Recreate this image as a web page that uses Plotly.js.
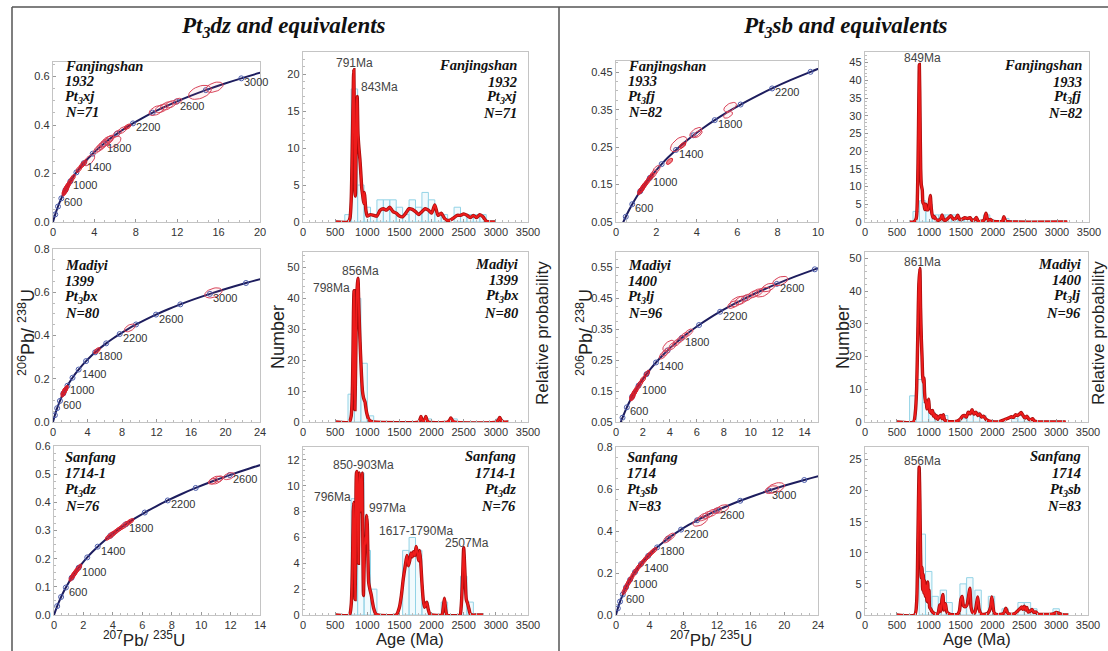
<!DOCTYPE html>
<html><head><meta charset="utf-8">
<script src="https://cdn.plot.ly/plotly-3.0.1.min.js"></script>
<style>html,body{margin:0;padding:0;background:#fff;}#chart{width:1108px;height:651px;}</style>
</head><body><div id="chart"></div>
<script>
// ---------- Concordia reference table (age in Ma, 207Pb/235U, 206Pb/238U) ----------
const concAge=[0,100,200,300,400,500,600,700,800,900,1000,1100,1200,1300,1400,1500,1600,1700,1800,1900,2000,2100,2200,2300,2400,2500,2600,2700,2800,2900,3000,3100,3200,3300,3400];
const concX=[0,0.1035,0.2177,0.3437,0.4828,0.6363,0.8056,0.9925,1.1987,1.4263,1.6774,1.9545,2.2603,2.5977,2.9701,3.3810,3.8344,4.3348,4.8869,5.4962,6.1685,6.9105,7.7292,8.6326,9.6296,10.7297,11.9437,13.2834,14.7616,16.3929,18.1931,20.1795,22.3716,24.7902,27.4597];
const concY=[0,0.01563,0.03151,0.04764,0.06402,0.08065,0.09754,0.11470,0.13213,0.14983,0.16780,0.18606,0.20460,0.22344,0.24256,0.26199,0.28172,0.30175,0.32211,0.34277,0.36377,0.38509,0.40674,0.42873,0.45107,0.47375,0.49679,0.52019,0.54396,0.56810,0.59261,0.61751,0.64280,0.66848,0.69456];
const concLabelAges=[600,1000,1400,1800,2200,2600,3000];

// ---------- Concordia analyses (ellipse centres, semi-major size) ----------
const ellA_x=[1.1,1.15,1.2,1.22,1.25,1.28,1.3,1.35,1.4,1.5,1.7,1.9,2.5,2.8,3.0,3.5,4.3,4.6,4.8,5.0,5.2,5.4,5.5,5.9,6.2,6.7,7.2,10.0,10.5,11.0,11.4,12.0,14.2,15.6];
const ellA_y=[0.122,0.127,0.132,0.129,0.136,0.14,0.138,0.145,0.148,0.155,0.169,0.182,0.218,0.234,0.243,0.255,0.299,0.31,0.318,0.326,0.333,0.339,0.343,0.33,0.365,0.379,0.393,0.46,0.469,0.479,0.486,0.498,0.535,0.556];
const ellA_s=[4,4,4,4,4,4,4,4,4,4,4,4,4,4,4,7,5,6,6,6,7,6,5,8,5,5,4,8,7,7,6,5,12,9];
const ellB_x=[1.2,1.25,1.3,1.35,1.4,1.45,1.55,5.1,8.9,18.6];
const ellB_y=[0.132,0.136,0.14,0.145,0.148,0.151,0.157,0.33,0.435,0.597];
const ellB_s=[4,4,4,4,4,4,3,4,6,9];
const ellC_x=[1.2,1.3,1.35,1.4,1.5,1.6,1.7,3.7,3.9,4.0,4.2,4.4,4.6,4.8,5.0,5.2,10.8,11.0,11.2,11.9];
const ellC_y=[0.132,0.14,0.144,0.148,0.155,0.162,0.169,0.276,0.284,0.288,0.296,0.304,0.311,0.319,0.326,0.333,0.475,0.479,0.483,0.493];
const ellC_s=[4,4,4,4,4,4,4,4,5,4,4,4,4,5,4,4,5,7,5,6];
const ellD_x=[1.2,1.25,1.28,1.3,1.35,1.4,1.45,1.55,1.65,1.75,1.85,2.0,2.65,3.1,3.3,3.95,4.05,5.55,5.65];
const ellD_y=[0.132,0.136,0.138,0.14,0.144,0.148,0.151,0.158,0.166,0.172,0.178,0.19,0.212,0.258,0.255,0.289,0.285,0.336,0.357];
const ellD_s=[4,4,4,4,4,4,4,4,4,4,5,5,4,10,4,7,5,5,7];
const ellE_x=[1.2,1.22,1.25,1.3,1.35,1.4,1.45,1.6,1.8,2.0,2.3,3.5,3.7,3.9,4.2,4.5,4.8,5.1,5.4,8.7,9.0,9.3,9.7,10.2,10.5,10.9,11.3,12.2];
const ellE_y=[0.132,0.13,0.136,0.14,0.144,0.148,0.151,0.162,0.175,0.188,0.207,0.267,0.276,0.297,0.296,0.307,0.318,0.329,0.339,0.43,0.44,0.444,0.452,0.463,0.469,0.47,0.485,0.506];
const ellE_s=[4,4,4,4,4,4,4,4,4,4,4,5,5,7,5,5,5,5,5,6,8,7,6,6,6,8,7,8];
const ellF_x=[1.0,1.2,1.4,1.6,1.8,2.1,2.4,2.7,3.0,3.3,3.6,3.9,4.2,4.5,6.1,6.5,10.0,10.4,10.9,11.4,12.0,12.6,18.5,19.0];
const ellF_y=[0.115,0.132,0.148,0.162,0.175,0.195,0.2125,0.229,0.243,0.257,0.271,0.284,0.296,0.307,0.361,0.373,0.447,0.467,0.477,0.486,0.498,0.505,0.597,0.606];
const ellF_s=[4,4,4,4,4,4,4,4,4,4,4,4,4,4,5,5,8,6,6,6,5,7,7,9];

// ---------- Histograms (bin centre Ma, count) and probability curves ----------
const h1Bin=[700,800,900,1000,1100,1200,1300,1400,1500,1600,1700,1800,1900,2000,2100,2200,2400,2500,2600,2700,2800];
const h1Cnt=[1,18,5,2,1,3,3,3,2,1,3,2,4,3,1,1,2,1,1,1,1];
const h1Age=[500,700,730,750,770,785,791,800,808,815,825,835,843,855,870,885,900,915,930,945,955,965,980,1000,1050,1100,1150,1200,1250,1300,1350,1400,1450,1500,1550,1600,1650,1700,1750,1800,1850,1900,1950,2000,2050,2100,2150,2200,2250,2300,2350,2400,2450,2500,2550,2600,2650,2700,2750,2800,2850,2900,3000];
const h1Prob=[0,0,0.5,3,12,19.5,20.6,12,4,3.5,10,16,17,12,10,8.5,6.5,4.5,3.5,2.5,4,3,1.5,0.8,1.0,0.9,0.8,1.6,1.8,1.6,2.0,1.4,1.2,0.8,0.7,1.2,1.8,1.7,1.4,1.0,1.4,1.8,1.6,1.2,2.3,0.9,1.2,0.5,0.2,0.3,0.6,0.9,0.9,1.1,0.9,0.6,0.9,0.6,1.0,0.7,0.1,0,0];

const h2Bin=[750,850,950,1050,1850,1950,2350,3050];
const h2Cnt=[9,40,19,2,1,1,1,1];
const h2Age=[500,720,750,770,785,793,800,808,820,835,848,856,865,880,895,910,925,940,955,965,975,990,1010,1030,1060,1100,1800,1820,1835,1850,1870,1895,1910,1925,1950,2250,2280,2300,2320,2350,3000,3040,3060,3080,3120,3200];
const h2Prob=[0,0,2,12,35,42.5,20,4,20,40,45,46.5,40,30,22,15,10,8,7,6.5,5,3,1.5,0.6,0.2,0,0,0.8,1.8,0.8,0.3,0.8,1.8,0.8,0,0,0.5,1.3,0.6,0,0,0.6,1.5,0.6,0,0];

const h3Bin=[800,900,1000,1100,1600,1700,1800,1900,2200,2500,2600];
const h3Cnt=[9,11,5,2,5,6,5,1,1,3,1];
const h3Age=[500,720,750,770,782,790,800,810,822,832,842,852,862,872,880,890,900,910,920,930,940,952,965,978,990,1000,1010,1022,1040,1060,1080,1100,1130,1160,1450,1500,1530,1560,1590,1617,1640,1660,1680,1700,1720,1740,1760,1780,1800,1815,1830,1850,1870,1890,1910,1925,1945,1970,2000,2160,2180,2200,2220,2240,2440,2460,2480,2500,2520,2540,2560,2580,2600,2630,2700,2800];
const h3Prob=[0,0,0.8,4,8,8.7,5,1.2,6,11,11.1,8,4,9,11,10,8,10,11,6,1.5,4,6,5.5,7.7,7,4.5,2.5,2,1.6,1.0,0.5,0.1,0,0,0.6,1.5,2.8,3.8,4.6,3.8,4.2,4.8,4.5,4.9,4.6,5.3,4.8,4.2,5.0,4.2,2.5,1.2,0.6,0.8,1.0,0.5,0.1,0,0,0.5,1.3,0.4,0,0,0.6,2.5,5.2,3.2,1.2,0.9,0.5,0.1,0,0,0];

const h4Bin=[800,900,1000,1100,1200,1300,1400,1500,1600,1700,1900,2200];
const h4Cnt=[3,6,5,2,2,2,2,1,1,1,2,1];
const h4Age=[690,760,800,820,835,849,860,870,880,895,905,920,935,950,965,985,1000,1020,1035,1050,1065,1080,1100,1120,1150,1180,1205,1230,1260,1300,1340,1380,1420,1450,1480,1520,1560,1600,1640,1680,1720,1740,1770,1820,1860,1890,1920,1960,2000,2050,2120,2150,2170,2190,2220,2300,3160];
const h4Prob=[0,0,1,8,25,44.5,30,15,10.5,9,5.5,5,3.5,5,3.5,3.5,4.5,7.5,4,2,1.2,1.6,1.0,0.6,0.5,0.8,2.0,0.6,0.5,1.1,1.8,0.8,1.0,1.9,0.7,0.8,1.2,1.0,1.2,0.4,0.8,1.3,0.2,0.2,0.5,2.5,0.5,0.7,0.2,0.1,0.1,0.3,1.5,0.5,0.1,0,0];

const h5Bin=[750,850,950,1050,1150,1250,1550,1650,1750,1850,2350,2450,2550];
const h5Cnt=[8,13,6,3,2,2,1,3,3,2,1,2,1];
const h5Age=[500,760,790,810,830,845,861,872,885,895,905,915,925,935,948,960,972,985,1000,1015,1030,1045,1060,1075,1090,1105,1120,1140,1160,1190,1210,1230,1250,1280,1320,1400,1450,1500,1530,1560,1590,1620,1650,1680,1710,1740,1770,1800,1830,1860,1900,1950,2000,2100,2150,2200,2250,2300,2330,2360,2390,2420,2450,2480,2510,2540,2570,2600,2630,2660,2700,2750,3150];
const h5Prob=[0,0,3,10,28,42,47,35,25,20,14,12,13.5,9,6,6.5,4,5,7,3,3.5,2.5,3.5,1.8,2.5,1.2,2.0,0.8,1.5,2.0,1.0,2.2,0.6,0.3,0.1,0.1,0.3,1.0,1.8,2.0,1.5,3.0,2.5,3.8,2.4,3.0,2.0,2.5,1.5,1.8,0.8,0.3,0.1,0.1,0.4,0.8,1.2,1.6,1.4,2.2,2.0,2.3,2.9,2.0,1.2,1.8,0.9,0.7,1.0,0.3,0.1,0,0];

const h6Bin=[900,1000,1100,1230,1320,1540,1645,1775,1985,2200,2450,2550,2650,3000];
const h6Cnt=[13,7,3,4,2,5,6,4,3,1,2,2,1,1];
const h6Age=[500,780,810,830,850,862,872,882,895,905,915,925,935,947,960,972,985,995,1005,1015,1030,1050,1080,1120,1150,1172,1192,1208,1222,1240,1262,1282,1300,1340,1450,1480,1505,1525,1545,1570,1600,1625,1645,1665,1690,1720,1745,1768,1790,1820,1870,1930,1970,1990,2005,2025,2060,2120,2180,2210,2240,2300,2360,2400,2430,2460,2480,2500,2520,2540,2560,2590,2620,2650,2680,2720,2800,2900,2960,3000,3040,3080,3120,3200];
const h6Prob=[0,0,2,12,23.8,18,10,6,7.7,4,6.5,3.5,5.5,3,4.8,2.2,5.3,2,4,1.2,1.0,0.6,0.3,0.1,0.4,1.6,0.6,2.5,3.3,0.8,1.8,0.6,0.3,0.1,0.1,0.6,2.5,3.0,1.5,1.3,1.6,3.0,4.3,1.2,0.4,0.3,1.4,2.9,1.0,0.2,0.1,0.3,1.2,2.9,1.8,0.4,0.1,0.1,0.3,1.1,0.3,0.1,0.3,0.7,1.0,1.3,0.9,1.4,0.8,1.2,0.5,0.6,0.9,0.4,0.5,0.1,0.1,0.1,0.2,0.4,0.3,0.1,0,0];

// ---------- Text ----------
const sampleA=['Fanjingshan','1932','Pt<sub>3</sub>xj','N=71'];
const sampleB=['Madiyi','1399','Pt<sub>3</sub>bx','N=80'];
const sampleC=['Sanfang','1714-1','Pt<sub>3</sub>dz','N=76'];
const sampleD=['Fanjingshan','1933','Pt<sub>3</sub>fj','N=82'];
const sampleE=['Madiyi','1400','Pt<sub>3</sub>lj','N=96'];
const sampleF=['Sanfang','1714','Pt<sub>3</sub>sb','N=83'];
const peaks1=[['791Ma',800,21.5,'center'],['843Ma',870,18.3,'left']];
const peaks2=[['856Ma',902,48.7,'center'],['798Ma',755,43.5,'right']];
const peaks3=[['850-903Ma',944,11.6,'center'],['796Ma',778,9.1,'right'],['997Ma',995,8.3,'left'],['1617-1790Ma',1757,6.5,'center'],['2507Ma',2551,5.6,'center']];
const peaks4=[['849Ma',894,46.3,'center']];
const peaks5=[['861Ma',899,48.8,'center']];
const peaks6=[['856Ma',899,24.7,'center']];

// ---------- Build ----------
const W=1108,H=651;
const PX=v=>v/W, PY=v=>1-v/H;
const SANS='"Liberation Sans", Arial, Helvetica, sans-serif';
const SERIF='"Liberation Serif", "Times New Roman", Times, serif';

const panels=[
 {n:1,t:'c',box:[53,260,62,222],xr:[0,20],yr:[0,0.66],xdt:4,ydt:0.2,y0:0,yf:'.1f',ex:ellA_x,ey:ellA_y,es:ellA_s,lab:sampleA,lx:63,ly:[66,81,97,112]},
 {n:2,t:'h',box:[303,528,52,222],yr:[0,23],ydt:5,bin:h1Bin,cnt:h1Cnt,age:h1Age,prob:h1Prob,pk:peaks1,lab:sampleA,lx:519,ly:[65,82,97,113]},
 {n:3,t:'c',box:[616,818,61,222],xr:[0,10],yr:[0.05,0.48],xdt:2,ydt:0.1,y0:0.05,yf:'.2f',ex:ellD_x,ey:ellD_y,es:ellD_s,lab:sampleD,lx:626,ly:[66,81,97,112]},
 {n:4,t:'h',box:[865,1089,52,222],yr:[0,48],ydt:5,bin:h4Bin,cnt:h4Cnt,age:h4Age,prob:h4Prob,pk:peaks4,lab:sampleD,lx:1084,ly:[65,82,97,113]},
 {n:5,t:'c',box:[53,260,249,422],xr:[0,24],yr:[0,0.8],xdt:4,ydt:0.2,y0:0,yf:'.1f',ex:ellB_x,ey:ellB_y,es:ellB_s,lab:sampleB,lx:63,ly:[265,281,297,313]},
 {n:6,t:'h',box:[303,528,252,422],yr:[0,55],ydt:10,bin:h2Bin,cnt:h2Cnt,age:h2Age,prob:h2Prob,pk:peaks2,lab:sampleB,lx:520,ly:[264,280,296,313]},
 {n:7,t:'c',box:[616,818,252,422],xr:[0,15],yr:[0.05,0.6],xdt:2,ydt:0.1,y0:0.05,yf:'.2f',ex:ellE_x,ey:ellE_y,es:ellE_s,lab:sampleE,lx:626,ly:[265,281,297,313]},
 {n:8,t:'h',box:[865,1088,252,422],yr:[0,52],ydt:10,bin:h5Bin,cnt:h5Cnt,age:h5Age,prob:h5Prob,pk:peaks5,lab:sampleE,lx:1083,ly:[264,280,296,313]},
 {n:9,t:'c',box:[54,260,446,615],xr:[0,14],yr:[0,0.6],xdt:2,ydt:0.1,y0:0,yf:'.1f',ex:ellC_x,ey:ellC_y,es:ellC_s,lab:sampleC,lx:63,ly:[457,473,490,506]},
 {n:10,t:'h',box:[303,528,447,615],yr:[0,13],ydt:2,bin:h3Bin,cnt:h3Cnt,age:h3Age,prob:h3Prob,pk:peaks3,lab:sampleC,lx:518,ly:[456,473,490,506]},
 {n:11,t:'c',box:[616,818,447,615],xr:[0,24],yr:[0,0.8],xdt:4,ydt:0.2,y0:0,yf:'.1f',ex:ellF_x,ey:ellF_y,es:ellF_s,lab:sampleF,lx:625,ly:[457,473,490,506]},
 {n:12,t:'h',box:[865,1088,447,615],yr:[0,27],ydt:5,bin:h6Bin,cnt:h6Cnt,age:h6Age,prob:h6Prob,pk:peaks6,lab:sampleF,lx:1083,ly:[456,473,490,506]}
];

const data=[],ann=[],shapes=[];
const layout={width:W,height:H,margin:{l:0,r:0,t:0,b:0},paper_bgcolor:'#fff',plot_bgcolor:'#fff',showlegend:false,annotations:ann,shapes:shapes,hovermode:false};
const ak=(n,c)=>c+'axis'+(n===1?'':n);
const ar=(n,c)=>c+(n===1?'':n);
function baseAxis(){return {showline:true,mirror:true,linecolor:'#c4c4c4',linewidth:1.2,showgrid:false,zeroline:false,ticks:'inside',ticklen:3,tickwidth:1,tickcolor:'#999',tickfont:{family:SANS,size:11,color:'#333'},fixedrange:true};}

function ellipseTrace(p,xref,yref,small){
  const pxu=(p.box[1]-p.box[0])/(p.xr[1]-p.xr[0]);
  const pyu=(p.box[3]-p.box[2])/(p.yr[1]-p.yr[0]);
  const X=[],Y=[];
  p.ex.forEach((cx,i)=>{
    const a=p.es[i]; if((a<=4)!==small) return;
    const cy=p.ey[i], b=a*0.5;
    let j=0; while(j<concX.length-2&&concX[j+1]<cx) j++;
    const slope=(concY[j+1]-concY[j])/(concX[j+1]-concX[j]);
    const phi=Math.atan2(slope*pyu,pxu);
    for(let k=0;k<=28;k++){
      const t=2*Math.PI*k/28, u=a*Math.cos(t), v=b*Math.sin(t);
      X.push(cx+(u*Math.cos(phi)-v*Math.sin(phi))/pxu);
      Y.push(cy+(u*Math.sin(phi)+v*Math.cos(phi))/pyu);
    }
    X.push(null);Y.push(null);
  });
  return {type:'scatter',mode:'lines',x:X,y:Y,xaxis:xref,yaxis:yref,
    line:{color:small?'#d81e2c':'#d9445a',width:1},fill:'toself',
    fillcolor:small?'rgba(220,25,40,0.55)':'rgba(235,110,130,0.07)',hoverinfo:'skip'};
}

panels.forEach(p=>{
  const xr=p.t==='h'?[0,3500]:p.xr, xdt=p.t==='h'?500:p.xdt;
  const xa=Object.assign(baseAxis(),{domain:[PX(p.box[0]),PX(p.box[1])],range:xr,tick0:0,dtick:xdt,anchor:ar(p.n,'y'),
    minor:{ticks:'inside',ticklen:2,tickcolor:'#bbb',dtick:p.t==='h'?100:xdt/4}});
  const ya=Object.assign(baseAxis(),{domain:[PY(p.box[3]),PY(p.box[2])],range:p.yr,tick0:p.t==='h'?0:p.y0,dtick:p.ydt,anchor:ar(p.n,'x'),
    minor:{ticks:'inside',ticklen:2,tickcolor:'#bbb',dtick:p.ydt/(p.t==='h'?5:4)}});
  if(p.yf) ya.tickformat=p.yf;
  layout[ak(p.n,'x')]=xa; layout[ak(p.n,'y')]=ya;
  const xref=ar(p.n,'x'), yref=ar(p.n,'y');
  if(p.t==='c'){
    data.push({type:'scatter',mode:'lines',x:concX,y:concY,xaxis:xref,yaxis:yref,line:{color:'#1d1d5e',width:2,shape:'spline'},hoverinfo:'skip'});
    const mx=[],my=[];
    concAge.forEach((a,i)=>{if(a%200===0&&a>0){mx.push(concX[i]);my.push(concY[i]);}});
    data.push({type:'scatter',mode:'markers',x:mx,y:my,xaxis:xref,yaxis:yref,marker:{symbol:'circle-open',size:5,color:'#4b5cab',line:{width:1}},hoverinfo:'skip'});
    data.push(ellipseTrace(p,xref,yref,false));
    data.push(ellipseTrace(p,xref,yref,true));
    concLabelAges.forEach(a=>{
      const i=concAge.indexOf(a);
      if(concX[i]<p.xr[1]&&concY[i]<p.yr[1]) ann.push({xref:xref,yref:yref,x:concX[i],y:concY[i],text:String(a),showarrow:false,xanchor:'left',yanchor:'middle',xshift:1,yshift:-4,font:{family:SANS,size:11,color:'#333'}});
    });
    p.lab.forEach((s,k)=>ann.push({xref:'paper',yref:'paper',x:PX(p.lx),y:PY(p.ly[k]),text:'<b><i>'+s+'</i></b>',showarrow:false,xanchor:'left',yanchor:'middle',font:{family:SERIF,size:14.5,color:'#111'}}));
  } else {
    data.push({type:'bar',x:p.bin,y:p.cnt,width:100,xaxis:xref,yaxis:yref,marker:{color:'rgba(200,236,246,0.25)',line:{color:'#93d3e6',width:1}},hoverinfo:'skip'});
    data.push({type:'scatter',mode:'lines',x:p.age,y:p.prob,xaxis:xref,yaxis:yref,line:{color:'#a50c0c',width:3.4,shape:'spline',smoothing:0.6},hoverinfo:'skip'});
    data.push({type:'scatter',mode:'lines',x:p.age,y:p.prob,xaxis:xref,yaxis:yref,line:{color:'#ee1c1c',width:1.9,shape:'spline',smoothing:0.6},hoverinfo:'skip'});
    p.pk.forEach(q=>ann.push({xref:xref,yref:yref,x:q[1],y:q[2],text:q[0],showarrow:false,xanchor:q[3],yanchor:'middle',font:{family:SANS,size:12,color:'#444'}}));
    p.lab.forEach((s,k)=>ann.push({xref:'paper',yref:'paper',x:PX(p.lx),y:PY(p.ly[k]),text:'<b><i>'+s+'</i></b>',showarrow:false,xanchor:'right',yanchor:'middle',font:{family:SERIF,size:14.5,color:'#111'}}));
  }
});

// titles
const titles=[['Pt<sub>3</sub>dz and equivalents',283],['Pt<sub>3</sub>sb and equivalents',845]];
titles.forEach(t=>ann.push({xref:'paper',yref:'paper',x:PX(t[1]),y:PY(27),text:'<b><i>'+t[0]+'</i></b>',showarrow:false,xanchor:'center',yanchor:'middle',font:{family:SERIF,size:23,color:'#111'}}));
// axis titles
const axT=[
 ['<sup>206</sup>Pb/ <sup>238</sup>U',26,333,-90,18],['<sup>206</sup>Pb/ <sup>238</sup>U',584,333,-90,18],
 ['Number',278,337,-90,18],['Number',843,337,-90,18],
 ['Relative probability',542,333,-90,17],['Relative probability',1098,333,-90,17],
 ['<sup>207</sup>Pb/ <sup>235</sup>U',144,639,0,17],['<sup>207</sup>Pb/ <sup>235</sup>U',711,639,0,17],
 ['Age (Ma)',410,639,0,16.5],['Age (Ma)',977,639,0,16.5]
];
axT.forEach(t=>ann.push({xref:'paper',yref:'paper',x:PX(t[1]),y:PY(t[2]),text:t[0],textangle:t[3],showarrow:false,xanchor:'center',yanchor:'middle',borderpad:0,font:{family:SANS,size:t[4],color:'#222'}}));
// frame lines
[[12,7,1108,7],[12,7,12,651],[559,7,559,651]].forEach(l=>shapes.push({type:'line',xref:'paper',yref:'paper',x0:PX(l[0]),y0:PY(l[1]),x1:PX(l[2]),y1:PY(l[3]),line:{color:'#555',width:1.5}}));

Plotly.newPlot('chart',data,layout,{staticPlot:true,displayModeBar:false});
</script></body></html>
